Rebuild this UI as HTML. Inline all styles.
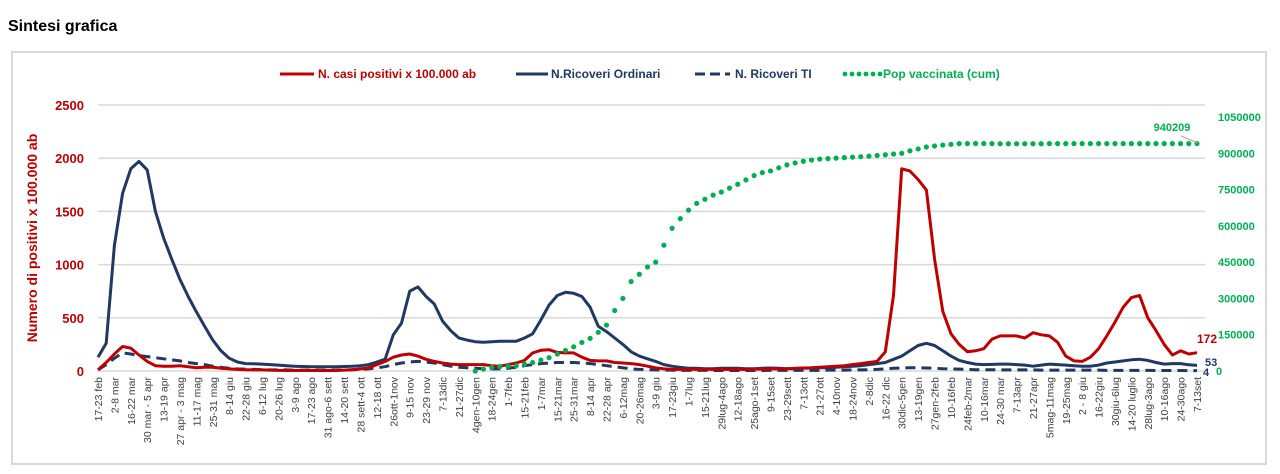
<!DOCTYPE html>
<html><head><meta charset="utf-8">
<style>
body{margin:0;width:1280px;height:474px;background:#fff;overflow:hidden;font-family:"Liberation Sans",sans-serif;}
#title{position:absolute;left:8px;top:18px;font-size:16px;font-weight:bold;color:#000;}
#box{position:absolute;left:11px;top:51px;width:1256px;height:414px;border:2px solid #d9d9d9;box-sizing:border-box;}
svg{position:absolute;left:0;top:0;}
</style></head><body>
<div id="title">Sintesi grafica</div>
<div id="box"></div>
<svg id="chart" width="1280" height="474"></svg>
<script>
const labels=["17-23 feb","2-8 mar","16-22 mar","30 mar - 5 apr","13-19 apr","27 apr - 3 mag","11-17 mag","25-31 mag","8-14 giu","22-28 giu","6-12 lug","20-26 lug","3-9 ago","17-23 ago","31 ago-6 sett","14-20 sett","28 sett-4 ott","12-18 ott","26ott-1nov","9-15 nov","23-29 nov","7-13dic","21-27dic","4gen-10gen","18-24gen","1-7feb","15-21feb","1-7mar","15-21mar","25-31mar","8-14 apr","22-28 apr","6-12mag","20-26mag","3-9 giu","17-23giu","1-7lug","15-21lug","29lug-4ago","12-18ago","25ago-1set","9-15set","23-29sett","7-13ott","21-27ott","4-10nov","18-24nov","2-8dic","16-22 dic","30dic-5gen","13-19gen","27gen-2feb","10-16feb","24feb-2mar","10-16mar","24-30 mar","7-13apr","21-27apr","5mag-11mag","19-25mag","2 - 8 giu","16-22giu","30giu-6lug","14-20 luglio","28lug-3ago","10-16ago","24-30ago","7-13set"];
const leftTicks=[0,500,1000,1500,2000,2500];
const rightTicks=[0,150000,300000,450000,600000,750000,900000,1050000];
const ricoveri=[130,260,1180,1670,1900,1970,1890,1500,1250,1050,860,700,555,420,290,190,120,85,70,68,65,60,55,50,45,42,40,40,40,40,42,45,50,60,85,111,340,450,750,790,700,630,470,380,310,290,275,270,275,280,280,280,310,350,480,620,710,740,730,700,600,420,370,310,250,180,140,115,90,60,45,35,25,
25,22,22,25,25,25,22,22,25,28,25,22,22,25,28,30,30,35,40,45,
50,60,70,80,110,140,190,240,260,240,190,140,100,80,65,60,62,65,65,60,55,45,55,65,60,55,50,45,45,55,75,85,95,105,110,100,80,65,70,70,58,53];
const casi=[10,80,160,230,215,150,90,50,45,45,50,40,30,35,35,25,20,15,12,10,10,8,6,5,5,5,5,5,5,5,8,12,20,30,60,90,130,150,160,140,110,90,75,65,60,60,60,60,50,45,60,75,100,170,195,200,175,170,170,130,100,95,95,80,75,70,60,45,30,20,
15,15,15,15,15,15,15,15,15,15,18,18,20,20,22,25,28,30,35,
40,45,50,60,70,80,90,180,710,1900,1880,1800,1700,1050,560,350,250,180,190,210,300,330,330,330,310,360,340,330,270,140,95,90,130,210,330,460,600,690,710,500,380,250,150,190,160,172];
const ti=[10,60,120,170,160,145,135,125,115,105,95,80,70,60,45,35,25,
20,18,15,12,10,10,10,8,8,8,8,8,8,10,12,15,20,
30,40,60,75,85,90,85,75,60,45,35,30,25,22,20,20,25,35,50,60,70,75,80,80,80,75,70,60,50,40,30,20,15,12,
10,8,8,6,6,6,6,5,5,5,5,5,5,5,6,6,6,6,6,6,6,8,8,8,10,10,12,15,
20,25,28,30,30,28,25,22,20,18,
15,12,12,12,10,10,10,10,10,8,8,8,8,8,8,8,8,6,6,6,6,6,6,5,5,5,5,4,4];
const vaccStart=46;
const vaccinati=[0,8000,15000,18000,20000,22000,28000,35000,45000,55000,70000,85000,100000,118000,135000,160000,190000,250000,300000,370000,400000,430000,450000,520000,590000,630000,665000,693000,710000,727000,740000,756000,772000,790000,808000,820000,827000,840000,852000,860000,867000,872000,876000,878000,880000,882000,884000,886000,888000,891000,894000,897000,900000,910000,918000,926000,930000,934000,937000,
940000,940000,940500,940500,940000,939500,939500,939500,939500,939500,939500,940000,940000,940000,940000,940000,940000,940000,940000,940000,940000,940000,940000,940000,940000,940000,940000,940000,940000,940209];

const NS="http://www.w3.org/2000/svg";
const svg=document.getElementById('chart');
const X0=98,X1=1197,Y0=371,YT=105,RT=117;
const N=ricoveri.length;
const xs=i=>X0+(X1-X0)*i/(N-1);
const yl=v=>Y0-(Y0-YT)*v/2500;
const yr=v=>Y0-(Y0-RT)*v/1050000;
function el(tag,attrs,parent){const e=document.createElementNS(NS,tag);for(const k in attrs)e.setAttribute(k,attrs[k]);(parent||svg).appendChild(e);return e;}
function txt(x,y,s,attrs){const t=el('text',Object.assign({x:x,y:y},attrs));t.textContent=s;return t;}

// gridlines & left ticks
leftTicks.forEach(v=>{
  const g=el('line',{x1:X0,x2:1205,y1:yl(v),y2:yl(v),stroke:'#d9d9d9','stroke-width':1.5});
  
  
  const t=txt(84,yl(v)+5,String(v),{'text-anchor':'end','font-size':13,'font-weight':'bold',fill:'#c00000'});
  
  
});
rightTicks.forEach(v=>{
  const t=txt(v===0?1216:1218,yr(v)+4,String(v),{'font-size':11,'font-weight':'bold',fill:'#00b050'});
  
  
});
const yt=txt(0,0,'Numero di positivi x 100.000 ab',{'font-size':14,'font-weight':'bold',fill:'#c00000','text-anchor':'middle',transform:'translate(37,238) rotate(-90)'});



// x labels
labels.forEach((s,j)=>{
  const x=xs(j*2);
  const t=txt(0,0,s,{'font-size':10.5,fill:'#404040','text-anchor':'end',transform:`translate(${x+4},377) rotate(-90)`});
  
  
});

function path(arr,f,start){return arr.map((v,i)=>(i?'L':'M')+xs(i+(start||0)).toFixed(1)+','+f(v).toFixed(1)).join(' ');}
const pTi=el('path',{d:path(ti,yl),fill:'none',stroke:'#1f3864','stroke-width':3,'stroke-dasharray':'10,6'});


const pRic=el('path',{d:path(ricoveri,yl),fill:'none',stroke:'#1f3864','stroke-width':3,'stroke-linejoin':'round'});


const pCasi=el('path',{d:path(casi,yl),fill:'none',stroke:'#c00000','stroke-width':3,'stroke-linejoin':'round'});


vaccinati.forEach((v,i)=>{
  const c=el('circle',{cx:xs(i+vaccStart),cy:yr(v),r:2.6,fill:'#00b050'});
  
  
});

// annotations
const a1=txt(1172,131,'940209',{'font-size':11,'font-weight':'bold',fill:'#00b050','text-anchor':'middle'});


el('line',{x1:1181,y1:136,x2:1198,y2:143,stroke:'#a6a6a6','stroke-width':1});
const a2=txt(1197,343,String(casi[N-1]),{'font-size':12,'font-weight':'bold',fill:'#c00000'});


const a3=txt(1205,366,String(ricoveri[N-1]),{'font-size':11,'font-weight':'bold',fill:'#1f3864'});


const a4=txt(1203,376,String(ti[N-1]),{'font-size':11,'font-weight':'bold',fill:'#1f3864'});



// legend
function leg(x1,x2,tx,label,color,style,name){
  const g=el('g',{});
  
  
  if(style==='dots'){for(let x=x1;x<=x2;x+=7)el('circle',{cx:x,cy:74,r:2.4,fill:color},g);}
  else el('line',{x1:x1,x2:x2,y1:74,y2:74,stroke:color,'stroke-width':3,'stroke-dasharray':style==='dash'?'10,5':'none'},g);
  const t=el('text',{x:tx,y:78,'font-size':12,'font-weight':'bold',fill:color},g);t.textContent=label;
}
leg(280,314,318,'N. casi positivi x 100.000 ab','#c00000','solid','legend-casi-positivi');
leg(516,548,551,'N.Ricoveri Ordinari','#1f3864','solid','legend-ricoveri-ordinari');
leg(695,730,735,'N. Ricoveri TI','#1f3864','dash','legend-ricoveri-ti');
leg(845,880,883,'Pop vaccinata (cum)','#00b050','dots','legend-pop-vaccinata');
</script>
</body></html>
